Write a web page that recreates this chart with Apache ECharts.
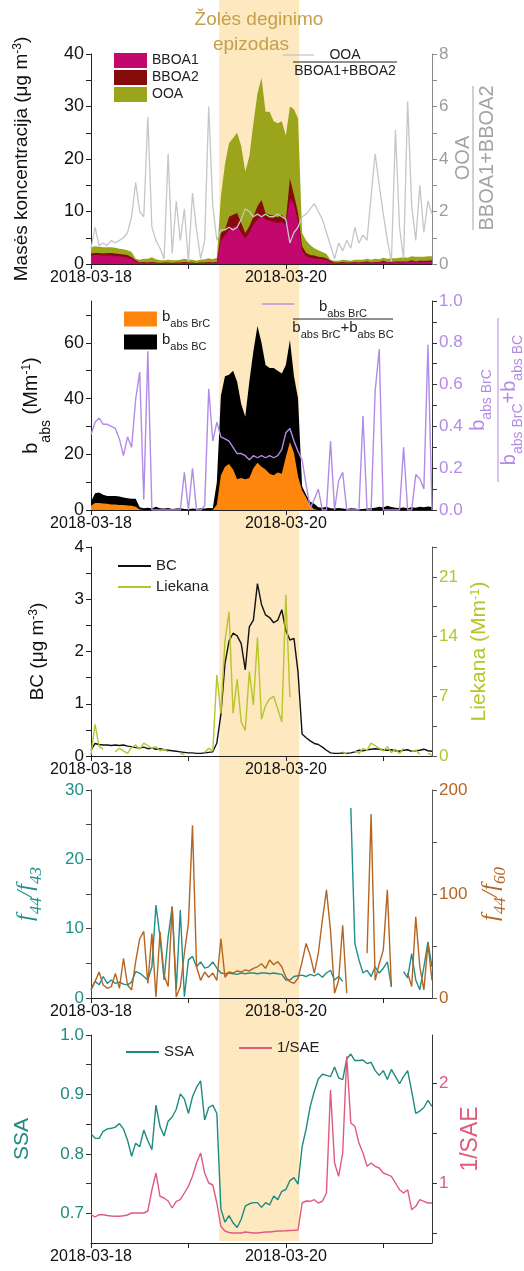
<!DOCTYPE html>
<html>
<head>
<meta charset="utf-8">
<script src="https://cdn.jsdelivr.net/npm/echarts@6/dist/echarts.min.js"></script>
<style>
  html, body { margin: 0; padding: 0; background: #fff; }
  #chart { width: 524px; height: 1271px; }
</style>
</head>
<body>
<div id="chart"></div>
<script>
// hours since 2018-03-18 00:00, one reading per hour
const hours = [];
for (let h = 0; h <= 84; h++) hours.push(h);

const xTickHours = [0, 24, 48, 72];
const xLabelHours = [0, 48];
const xLabelText = ['2018-03-18', '2018-03-20'];
const episode = [31.6, 51.3]; // grass burning episode, hours

// panel 1 - mass concentration (ug m-3) and OOA/(BBOA1+BBOA2)
const bboa1 = [1.6,1.7,1.7,1.6,1.6,1.6,1.5,1.5,1.4,1.3,1.0,0.5,
  0.2,0.3,0.2,0.3,0.2,0.1,0.2,0.2,0.1,0.2,0.2,0.3,0.2,0.2,0.1,0.2,0.2,0.3,0.2,0.3,
  4.5,5.5,6.5,7.0,7.2,6.0,4.8,6.0,7.5,8.5,9.2,8.5,8.2,8.0,7.8,8.0,7.5,12.5,11.5,8.0,2.5,1.5,1.2,1.1,1.0,0.9,0.8,0.4,
  0.2,0.2,0.3,0.2,0.2,0.3,0.2,0.3,0.3,0.2,0.3,0.3,0.4,0.3,0.3,0.4,0.3,0.4,0.4,0.5,0.4,0.4,0.5,0.4,0.5];
const bboa2 = [0.4,0.4,0.4,0.4,0.5,0.5,0.5,0.4,0.4,0.4,0.3,0.2,
  0.1,0.1,0.1,0.1,0.1,0.1,0.1,0.1,0.1,0.1,0.1,0.1,0.1,0.1,0.1,0.1,0.1,0.1,0.1,0.1,
  1.4,1.0,2.5,2.4,2.5,1.8,1.1,1.2,1.5,2.5,3.0,1.2,1.2,1.2,1.1,1.4,0.9,3.8,1.7,1.7,0.9,0.6,0.5,0.5,0.4,0.4,0.3,0.2,
  0.1,0.1,0.1,0.1,0.1,0.1,0.1,0.1,0.2,0.1,0.1,0.1,0.2,0.1,0.1,0.1,0.2,0.1,0.1,0.2,0.1,0.2,0.1,0.2,0.2];
const ooa = [1.2,1.3,1.2,1.2,1.1,1.1,1.1,1.0,1.0,0.9,1.0,0.3,
  0.5,0.6,0.7,0.9,0.6,0.5,0.4,0.5,0.5,0.4,0.5,0.6,0.5,0.5,0.4,0.5,0.6,0.7,0.6,0.8,
  7.0,12.5,14.0,14.6,15.3,14.7,11.7,13.3,17.8,21.5,23.3,19.3,19.6,18.0,17.9,17.8,16.1,13.7,16.3,18.0,2.5,2.4,1.9,1.4,1.2,1.0,0.8,0.2,
  0.3,0.3,0.4,0.4,0.3,0.4,0.5,0.4,0.5,0.5,0.6,0.5,0.6,0.6,0.7,0.6,0.7,0.8,0.7,0.8,0.9,0.8,0.8,0.9,0.8];
const ooaRatio = [0.6,1.4,0.7,0.8,0.7,0.9,0.8,0.9,1.0,1.2,
  1.8,3.1,2.0,1.8,5.6,1.4,0.9,0.6,0.2,4.2,
  0.4,2.4,0.9,2.1,0.1,2.7,1.3,0.2,0.9,6.0,
  2.2,0.9,1.3,1.3,1.4,1.3,1.4,1.7,2.1,2.0,
  1.8,1.9,1.8,1.9,1.8,1.8,1.9,1.8,1.7,0.8,
  1.2,1.4,1.8,1.9,2.1,2.3,2.0,1.7,1.2,0.7,
  0.2,0.8,0.5,0.9,0.6,1.4,0.8,1.1,0.9,2.6,
  4.2,3.0,1.9,0.9,0.1,5.1,1.4,0.2,6.2,2.2,
  0.9,3.0,1.2,2.4,1.9];

// panel 2 - absorption (Mm-1) and BrC fraction
const babsBrC = [1.5,2.5,2.5,2.3,2.2,2.0,2.0,1.8,1.8,1.6,1.5,1.2,0.2,
  0,0,0,0,0,0,0,0,0,0,0,0,0,0,0,0,0,0,2,
  12.5,15.5,16.5,14.5,11,11.5,11,11.5,15,17,15.5,14.5,13,12.5,13.5,13,19,24.4,20.5,12,7,4.5,1.5,0.3,
  0,0,0,0,0,0,0,0,0,0,0,0,0,0,0,0,0,0,0,0,0,0,0,0,0,0,0,0,0];
const babsBC = [1.5,3.5,3.8,3.2,2.8,3.0,3.0,3.0,2.7,2.6,2.5,2.8,0.8,
  0.6,0.8,0.5,1.2,0.6,0.5,0.7,0.4,0.5,0.6,0.4,0.3,0.5,0.4,0.6,0.5,0.7,0.6,8,
  28.5,32.5,32,35.5,35,26.5,22.5,34.5,42,49,44.5,37.5,38,38.5,36.5,36,33,36.6,27.5,28,1.5,1.0,1.5,1.9,
  1.0,0.8,1.2,0.6,0.5,0.7,0.5,0.4,0.6,0.5,0.3,0.4,0.5,0.6,0.8,1.2,0.9,1.5,1.1,0.8,0.7,0.9,0.6,1.0,0.8,1.2,1.0,1.3,1.1];
const brcFraction = [0.36,0.42,0.44,0.41,0.41,0.40,0.39,0.34,0.26,0.35,
  0.30,0.53,0.66,0.05,0.76,0,0,0,0,0,
  0,0,0,0.18,0,0.20,0,0,0.02,0.58,
  0.33,0.42,0.35,0.34,0.33,0.30,0.27,0.27,0.26,0.24,
  0.26,0.25,0.26,0.25,0.26,0.25,0.26,0.29,0.37,0.39,
  0.33,0.28,0.24,0.12,0.01,0.05,0.10,0,0,0.33,
  0,0.14,0.18,0,0,0,0,0.45,0,0,
  0.57,0.77,0,0,0,0,0,0.30,0,0,
  0.17,0.15,0.10,0.79,0];

// panel 3 - BC (ug m-3) and Liekana (Mm-1)
const bcMass = [0.11,0.24,0.22,0.21,0.21,0.20,0.21,0.20,0.21,0.19,
  0.18,0.16,0.15,0.17,0.14,0.15,0.13,0.14,0.12,0.11,
  0.10,0.09,0.08,0.07,0.06,0.06,0.05,0.05,0.06,0.07,
  0.08,0.25,0.8,1.77,2.2,2.35,2.3,2.15,1.65,2.47,
  2.6,3.3,2.9,2.7,2.65,2.55,2.6,2.8,2.4,2.22,
  2.25,1.6,0.42,0.35,0.29,0.24,0.22,0.17,0.11,0.06,
  0.05,0.05,0.06,0.05,0.06,0.08,0.11,0.10,0.12,0.13,
  0.14,0.13,0.12,0.11,0.12,0.10,0.09,0.11,0.12,0.09,
  0.10,0.11,0.13,0.10,0.09];
const liekana = [0.2,3.7,1.1,0.8,null,null,0.5,0.9,0.6,0.3,
  1.0,1.3,0.8,1.5,1.2,0.9,1.1,0.6,0.8,0.5,
  null,null,0.3,0.2,null,null,null,null,0.4,0.9,
  0.6,9.5,5.0,13.5,16.9,5.0,9.0,4.0,3.0,9.9,
  6.0,13.9,4.3,5.9,6.7,7.0,5.5,4.0,18.9,6.9,
  null,null,null,null,null,null,null,null,null,null,
  0.3,null,0.5,0.2,null,0.6,0.3,0.9,0.7,1.5,
  1.2,0.9,0.6,1.1,0.4,0.8,0.3,0.9,null,0.5,
  0.7,0.2,null,0.3,0.1];

// panel 4 - f44/f43 and f44/f60
const f44f43 = [1.2,2.4,1.9,3.1,2.1,2.6,2.1,2.3,2.0,1.9,
  2.3,3.8,3.6,3.1,2.6,4.5,13.4,8.8,2.6,8.8,
  13.2,1.2,12.7,0.2,5.5,6.0,4.5,5.2,4.3,4.5,
  5.2,4.3,3.6,3.5,3.6,3.5,3.4,3.6,3.5,3.6,
  3.6,3.5,3.6,3.6,3.5,3.6,3.5,3.4,2.6,2.6,
  3.1,3.2,3.3,3.1,3.4,3.2,3.5,3.0,3.6,4.0,
  2.6,3.1,2.4,null,27.4,7.9,5.5,3.6,4.0,3.1,
  4.5,3.6,4.3,5.2,1.6,null,null,3.8,2.9,6.4,
  2.6,1.2,4.5,8.1,4.5];
const f44f60 = [7.7,16,25,12.5,9.3,11,23.7,9.3,38,12.5,
  7.7,35,57,64,14,62,1,64,22,11,
  88,1,11,43,72,166,30,17,25,20,
  24,17,57,20,25,24,26,25,27,26,
  28.5,30,33,28.5,36.5,32,35,30,20,15.7,
  14,19,35,52.5,41,24,43,75,104,65,
  4.5,17,70,4.5,null,null,null,null,43,177,
  17,33,46,104,11,null,null,null,24,11,
  78,30,7.7,52,17];

// panel 5 - SSA and 1/SAE
const ssa = [0.834,0.826,0.826,0.838,0.842,0.843,0.845,0.851,0.842,0.823,
  0.796,0.818,0.812,0.84,0.822,0.807,0.882,0.846,0.83,0.855,
  0.862,0.875,0.901,0.892,0.868,0.896,0.912,0.923,0.857,0.878,
  0.882,0.868,0.707,0.685,0.696,0.684,0.676,0.69,0.712,0.716,
  0.718,0.718,0.71,0.718,0.714,0.729,0.723,0.737,0.74,0.755,
  0.76,0.749,0.812,0.842,0.88,0.905,0.926,0.934,0.932,0.93,
  0.946,0.928,0.925,0.96,0.968,0.957,0.957,0.958,0.952,0.954,
  0.94,0.932,0.94,0.925,0.942,0.93,0.918,0.93,0.94,0.905,
  0.868,0.872,0.878,0.89,0.88];
const invSae = [0.683,0.66,0.683,0.683,0.675,0.67,0.667,0.667,0.673,0.68,
  0.7,0.7,0.7,0.7,0.72,0.93,1.1,0.867,0.85,0.82,
  0.75,0.817,0.833,0.9,0.967,1.067,1.2,1.3,1.1,1.0,
  0.98,0.8,0.567,0.52,0.505,0.5,0.5,0.5,0.51,0.505,
  0.5,0.5,0.505,0.51,0.51,0.515,0.52,0.52,0.522,0.525,
  0.527,0.53,0.8,0.82,0.817,0.833,0.8,0.817,0.9,1.93,
  1.2,1.067,1.3,2.267,1.6,1.567,1.4,1.3,1.167,1.2,
  1.167,1.15,1.1,1.083,1.067,1.0,0.933,0.9,0.933,0.733,
  0.767,0.833,0.817,0.8,0.8];

// tick positions / labels of the y axes
const p1LeftTicks = [0,5,10,15,20,25,30,35,40], p1LeftLabels = [0,10,20,30,40];
const p1RightTicks = [0,1,2,3,4,5,6,7,8], p1RightLabels = [0,2,4,6,8];
const p2LeftTicks = [0,10,20,30,40,50,60,70], p2LeftLabels = [0,20,40,60];
const p2RightTicks = [0,0.1,0.2,0.3,0.4,0.5,0.6,0.7,0.8,0.9,1.0], p2RightLabels = [0,0.2,0.4,0.6,0.8,1.0];
const p3LeftTicks = [0,0.5,1,1.5,2,2.5,3,3.5,4], p3LeftLabels = [0,1,2,3,4];
const p3RightTicks = [0,3.5,7,10.5,14,17.5,21,24.5], p3RightLabels = [0,7,14,21];
const p4LeftTicks = [0,5,10,15,20,25,30], p4LeftLabels = [0,10,20,30];
const p4RightTicks = [0,50,100,150,200], p4RightLabels = [0,100,200];
const p5LeftTicks = [0.7,0.75,0.8,0.85,0.9,0.95,1.0], p5LeftLabels = [0.7,0.8,0.9,1.0];
const p5RightTicks = [0.5,1,1.5,2], p5RightLabels = [1,2];

const FONT = 'Liberation Sans, Arial, sans-serif';
const SERIF = 'Liberation Serif, Times New Roman, serif';

const C = {
  bboa1: '#c2086d', bboa2: '#860b0b', ooa: '#9aa51c', ratio1: '#c6c6c6',
  brc: '#ff860d', bc: '#000000', purple: '#b38be6',
  bcLine: '#111111', liek: '#b7c52a',
  teal: '#1f8f8c', brown: '#b5651f',
  ssa: '#1f8a80', sae: '#e05a7e', shade: '#fde8c0', title: '#c4a04c'
};

// stacked tops (areas are drawn from zero, biggest first)
const oaMid = bboa1.map((v, i) => v + bboa2[i]);
const oaTop = oaMid.map((v, i) => v + ooa[i]);
const absTop = babsBrC.map((v, i) => v + babsBC[i]);

function pairs(vals) { return hours.map((h, i) => [h, vals[i]]); }

// rich text pieces: m normal, s subscript, p superscript
function richSet(size, color, family, italic, drop) {
  const st = italic ? 'italic' : 'normal';
  return {
    m: { fontSize: size, color: color, fontFamily: family, fontStyle: st, lineHeight: size + 2, verticalAlign: 'top' },
    s: { fontSize: Math.round(size * 0.7), color: color, fontFamily: family, fontStyle: st, lineHeight: size + 2 + drop, verticalAlign: 'bottom' },
    p: { fontSize: Math.round(size * 0.62), color: color, fontFamily: family, fontStyle: st, lineHeight: Math.round(size * 0.6), verticalAlign: 'top' }
  };
}

function xAx(gi) {
  return {
    type: 'value', gridIndex: gi, min: 0, max: 84,
    axisLine: { show: true, onZero: false, lineStyle: { color: '#222', width: 1 } },
    axisTick: { show: true, customValues: xTickHours, length: 5, lineStyle: { color: '#222' } },
    axisLabel: {
      show: true, customValues: xLabelHours, margin: 6,
      formatter: v => { const i = xLabelHours.indexOf(v); return i >= 0 ? xLabelText[i] : ''; },
      fontSize: 16, color: '#111', fontFamily: FONT
    },
    splitLine: { show: false }
  };
}

function yAx(gi, pos, min, max, ticks, labels, labelColor, lineColor, fmt, size, name) {
  const ax = {
    type: 'value', gridIndex: gi, position: pos, min: min, max: max,
    axisLine: { show: true, onZero: false, lineStyle: { color: lineColor, width: 1 } },
    axisTick: { show: true, customValues: ticks, length: 5, lineStyle: { color: lineColor } },
    axisLabel: { show: true, customValues: labels, formatter: fmt || (v => String(v)), color: labelColor, fontSize: size || 17, fontFamily: FONT, margin: 7 },
    splitLine: { show: false }
  };
  if (name) Object.assign(ax, name);
  return ax;
}

function axName(text, gap, rich) {
  return { name: text, nameLocation: 'middle', nameGap: gap, nameRotate: 90, nameTextStyle: { rich: rich } };
}

const grids = [
  { left: 91, right: 92, top: 54, height: 210 },
  { left: 91, right: 92, top: 301, height: 209 },
  { left: 91, right: 92, top: 547, height: 209 },
  { left: 91, right: 92, top: 790, height: 208 },
  { left: 91, right: 92, top: 1035, height: 208 },
  { left: 91, right: 92, top: 0, height: 1241 }
];

const xAxes = [xAx(0), xAx(1), xAx(2), xAx(3), xAx(4),
  { type: 'value', gridIndex: 5, min: 0, max: 84, show: false }];

const f1 = v => v.toFixed(1);
const yAxes = [
  yAx(0, 'left', 0, 40, p1LeftTicks, p1LeftLabels, '#111', '#222', null, 18,
    axName('{m|Masės koncentracija (μg m}{p|-3}{m|)}', 58, richSet(19, '#111', FONT, false, 8))),
  yAx(0, 'right', 0, 8, p1RightTicks, p1RightLabels, '#9c9c9c', '#8a8a8a', null, 17),
  yAx(1, 'left', 0, 75, p2LeftTicks, p2LeftLabels, '#111', '#222', null, 18,
    axName('{m|b}{s|abs}{m| (Mm}{p|-1}{m|)}', 38, richSet(20, '#111', FONT, false, 10))),
  yAx(1, 'right', 0, 1, p2RightTicks, p2RightLabels, C.purple, '#333', f1, 17),
  yAx(2, 'left', 0, 4, p3LeftTicks, p3LeftLabels, '#111', '#222', null, 17,
    axName('{m|BC (μg m}{p|-3}{m|)}', 42, richSet(19, '#111', FONT, false, 8))),
  yAx(2, 'right', 0, 24.5, p3RightTicks, p3RightLabels, C.liek, '#555', null, 17,
    axName('{m|Liekana (Mm}{p|-1}{m|)}', 34, richSet(21, C.liek, FONT, false, 8))),
  yAx(3, 'left', 0, 30, p4LeftTicks, p4LeftLabels, C.teal, '#444', null, 17,
    axName('{m|f}{s|44}{m|/f}{s|43}', 46, richSet(24, C.teal, SERIF, true, 5))),
  yAx(3, 'right', 0, 200, p4RightTicks, p4RightLabels, C.brown, '#555', null, 17,
    axName('{m|f}{s|44}{m|/f}{s|60}', 44, richSet(24, C.brown, SERIF, true, 5))),
  yAx(4, 'left', 0.65, 1.0, p5LeftTicks, p5LeftLabels, C.ssa, '#333', f1, 17,
    axName('{m|SSA}', 56, richSet(21, C.ssa, FONT, false, 0))),
  yAx(4, 'right', 0.4, 2.48, p5RightTicks, p5RightLabels, C.sae, '#333', null, 17,
    axName('{m|1/SAE}', 24, richSet(23, C.sae, FONT, false, 0))),
  { type: 'value', gridIndex: 5, min: 0, max: 1, show: false }
];

function areaSeries(name, vals, color, xi, yi) {
  return {
    name: name, type: 'line', xAxisIndex: xi, yAxisIndex: yi,
    symbol: 'none', lineStyle: { width: 0 }, areaStyle: { color: color, opacity: 1, origin: 'start' },
    itemStyle: { color: color }, data: pairs(vals), z: 2
  };
}
function lineSeries(name, vals, color, xi, yi, width) {
  return {
    name: name, type: 'line', xAxisIndex: xi, yAxisIndex: yi, symbol: 'none',
    lineStyle: { color: color, width: width || 1.3 }, itemStyle: { color: color },
    data: pairs(vals), z: 3
  };
}

const series = [
  {
    name: 'episode', type: 'line', xAxisIndex: 5, yAxisIndex: 10, symbol: 'none',
    lineStyle: { opacity: 0 }, data: [[0, 0]], silent: true, z: -5,
    markArea: { silent: true, z: -5, itemStyle: { color: C.shade }, data: [[{ xAxis: episode[0] }, { xAxis: episode[1] }]] }
  },
  areaSeries('OOA', oaTop, C.ooa, 0, 0),
  areaSeries('BBOA2', oaMid, C.bboa2, 0, 0),
  areaSeries('BBOA1', bboa1, C.bboa1, 0, 0),
  lineSeries('ooaRatio', ooaRatio, C.ratio1, 0, 1, 1.3),
  areaSeries('babsBC', absTop, C.bc, 1, 2),
  areaSeries('babsBrC', babsBrC, C.brc, 1, 2),
  lineSeries('brcFraction', brcFraction, C.purple, 1, 3, 1.4),
  lineSeries('BC', bcMass, C.bcLine, 2, 4, 1.4),
  lineSeries('Liekana', liekana, C.liek, 2, 5, 1.4),
  lineSeries('f44f43', f44f43, C.teal, 3, 6, 1.4),
  lineSeries('f44f60', f44f60, C.brown, 3, 7, 1.4),
  lineSeries('SSA', ssa, C.ssa, 4, 8, 1.4),
  lineSeries('1/SAE', invSae, C.sae, 4, 9, 1.4)
];

const legendText = { fontFamily: FONT, fontSize: 14, color: '#222' };
const lineLegend = (names, left, top, gap) => ({
  data: names, left: left, top: top, orient: 'vertical', icon: 'rect',
  itemWidth: 33, itemHeight: 2, itemGap: gap || 0, padding: 0, selectedMode: false,
  textStyle: Object.assign({}, legendText, { fontSize: 15, lineHeight: 20 })
});
const legends = [
  { data: ['BBOA1', 'BBOA2', 'OOA'], left: 114, top: 53, orient: 'vertical', icon: 'rect',
    itemWidth: 33, itemHeight: 15, itemGap: 2, padding: 0, selectedMode: false,
    textStyle: Object.assign({ lineHeight: 15 }, legendText) },
  { data: ['babsBrC', 'babsBC'], left: 124, top: 309, orient: 'vertical', icon: 'rect',
    itemWidth: 33, itemHeight: 15, itemGap: 3, padding: 0, selectedMode: false,
    formatter: n => n === 'babsBrC' ? '{m|b}{s|abs BrC}' : '{m|b}{s|abs BC}',
    textStyle: { rich: richSet(15, '#222', FONT, false, 3) } },
  lineLegend(['BC', 'Liekana'], 118, 556, 1),
  lineLegend(['SSA'], 126, 1042),
  lineLegend(['1/SAE'], 239, 1038)
];

function fraction(x, y, num, den, half, color, size, rot, rich, numOff, denOff) {
  const txt = (t, dy) => ({
    type: 'text', x: 0, y: dy,
    style: { text: t, fill: color, fontSize: size, fontFamily: FONT, align: 'center', verticalAlign: 'middle', rich: rich }
  });
  return {
    type: 'group', x: x, y: y, rotation: rot,
    children: [
      txt(num, numOff),
      { type: 'line', shape: { x1: -half, y1: 0, x2: half, y2: 0 }, style: { stroke: color, lineWidth: 1 } },
      txt(den, denOff)
    ]
  };
}

const graphics = [
  { type: 'text', x: 259, y: 20, style: { text: 'Žolės deginimo', fill: C.title, fontSize: 19, fontFamily: FONT, align: 'center', verticalAlign: 'middle' } },
  { type: 'text', x: 251, y: 45, style: { text: 'epizodas', fill: C.title, fontSize: 19, fontFamily: FONT, align: 'center', verticalAlign: 'middle' } },
  // panel 1 ratio legend
  { type: 'line', shape: { x1: 283, y1: 55, x2: 314, y2: 55 }, style: { stroke: C.ratio1, lineWidth: 1.3 } },
  fraction(345, 62, 'OOA', 'BBOA1+BBOA2', 52, '#222', 14, 0, null, -7, 9),
  fraction(473, 158, 'OOA', 'BBOA1+BBOA2', 72, '#a3a3a3', 20, Math.PI / 2, null, -10, 14),
  // panel 2 fraction legend
  { type: 'line', shape: { x1: 262, y1: 304, x2: 294, y2: 304 }, style: { stroke: C.purple, lineWidth: 1.4 } },
  fraction(343, 319, '{m|b}{s|abs BrC}', '{m|b}{s|abs BrC}{m|+b}{s|abs BC}', 50, '#222', 15, 0,
    richSet(15, '#222', FONT, false, 3), -10, 11),
  fraction(498, 400, '{m|b}{s|abs BrC}', '{m|b}{s|abs BrC}{m|+b}{s|abs BC}', 82, C.purple, 20, Math.PI / 2,
    richSet(20, C.purple, FONT, false, 4), -17, 14)
];

const chart = echarts.init(document.getElementById('chart'), null, { renderer: 'canvas' });
chart.setOption({
  backgroundColor: '#ffffff',
  animation: false,
  grid: grids,
  xAxis: xAxes,
  yAxis: yAxes,
  legend: legends,
  graphic: graphics,
  series: series
});
</script>
</body>
</html>
